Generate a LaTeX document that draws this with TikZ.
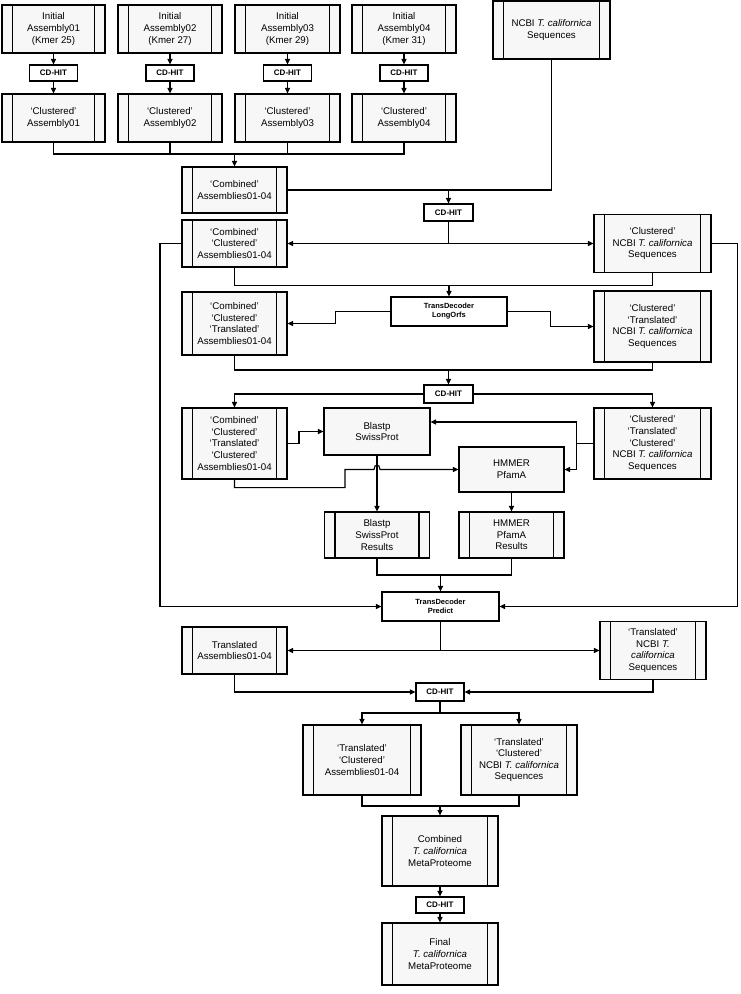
\documentclass[tikz,border=0pt]{standalone}
\usepackage{fontspec}
\setmainfont{Liberation Sans}
\usetikzlibrary{arrows.meta}
\definecolor{boxfill}{RGB}{247,247,247}
\begin{document}
\begin{tikzpicture}[x=1pt,y=-1pt,
  line width=1.1pt,
  every node/.style={font=\fontsize{9.7}{11.6}\selectfont, align=center, inner sep=0pt},
  sz/.style 2 args={minimum width=#1pt, minimum height=#2pt},
  pp/.style={draw, fill=boxfill, rectangle,
    path picture={\draw[line width=1.1pt]
      ([xshift=10.5pt]path picture bounding box.north west) -- ([xshift=10.5pt]path picture bounding box.south west)
      ([xshift=-10.5pt]path picture bounding box.north east) -- ([xshift=-10.5pt]path picture bounding box.south east);}},
  proc/.style={draw, fill=boxfill, rectangle},
  tool/.style={draw, fill=white, rectangle, font=\fontsize{8}{9.5}\selectfont\bfseries},
  tdec/.style={draw, fill=white, rectangle, font=\fontsize{7.5}{9}\selectfont\bfseries},
  arr/.style={-{Triangle[length=5.5pt,width=5pt]}}
]
\useasboundingbox (0,0) rectangle (740,994);

% top row
\node[pp,sz={103}{48}] (a1) at (53.5,29) {Initial\\Assembly01\\(Kmer 25)};
\node[pp,sz={104}{48}] (a2) at (170,29) {Initial\\Assembly02\\(Kmer 27)};
\node[pp,sz={105}{48}] (a3) at (287.5,29) {Initial\\Assembly03\\(Kmer 29)};
\node[pp,sz={104}{48}] (a4) at (404,29) {Initial\\Assembly04\\(Kmer 31)};
\node[pp,sz={117}{58}] (ncbi) at (551.5,30) {NCBI \textit{T. californica}\\Sequences};

\node[tool,sz={48}{16}] (cd1) at (53.5,73) {CD-HIT};
\node[tool,sz={48}{16}] (cd2) at (170,73) {CD-HIT};
\node[tool,sz={48}{16}] (cd3) at (287.5,73) {CD-HIT};
\node[tool,sz={48}{16}] (cd4) at (404,73) {CD-HIT};

\node[pp,sz={103}{48}] (c1) at (53.5,118) {`Clustered'\\Assembly01};
\node[pp,sz={104}{48}] (c2) at (170,118) {`Clustered'\\Assembly02};
\node[pp,sz={105}{48}] (c3) at (287.5,118) {`Clustered'\\Assembly03};
\node[pp,sz={104}{48}] (c4) at (404,118) {`Clustered'\\Assembly04};

\foreach \i in {1,2,3,4}{
  \draw[arr] (a\i.south) -- (cd\i.north);
  \draw[arr] (cd\i.south) -- (c\i.north);
}

\node[pp,sz={105}{46}] (comb) at (234.5,190) {`Combined'\\Assemblies01-04};
\coordinate (j1) at (234.5,154);
\draw (c1.south) -- (c1.south |- j1) -- (c4.south |- j1) -- (c4.south);
\draw (c2.south) -- (c2.south |- j1);
\draw (c3.south) -- (c3.south |- j1);
\draw[arr] (j1) -- (comb.north);

\node[tool,sz={49}{17}] (cdA) at (448.5,212.5) {CD-HIT};
\draw (ncbi.south) |- (comb.east);
\draw[arr] (cdA.north |- comb.east) -- (cdA.north);

\node[pp,sz={105}{47}] (cc) at (234.5,243.5) {`Combined'\\`Clustered'\\Assemblies01-04};
\node[pp,sz={117}{58}] (nc) at (652.5,243.5) {`Clustered'\\NCBI \textit{T. californica}\\Sequences};
\coordinate (jA) at (cdA.south |- cc.east);
\draw (cdA.south) -- (jA);
\draw[arr] (jA) -- (cc.east);
\draw[arr] (jA) -- (nc.west);

\node[tdec,sz={116}{29}] (lo) at (449,311.5) {TransDecoder\\LongOrfs};
\coordinate (j2) at (449,285.5);
\draw (cc.south) |- (nc.south |- j2) -- (nc.south);
\draw[arr] (j2) -- (lo.north);

\node[pp,sz={105}{63}] (cct) at (234.5,323.5) {`Combined'\\`Clustered'\\`Translated'\\Assemblies01-04};
\node[pp,sz={117}{71}] (nct) at (652.5,326.5) {`Clustered'\\`Translated'\\NCBI \textit{T. californica}\\Sequences};
\draw[arr] (lo.west) -- ++(-55,0) |- (cct.east);
\draw[arr] (lo.east) -- ++(43,0) |- (nct.west);

\node[tool,sz={49}{18}] (cdB) at (448.5,394) {CD-HIT};
\coordinate (j3) at (448.5,370);
\draw (cct.south) |- (nct.south |- j3) -- (nct.south);
\draw[arr] (j3) -- (cdB.north);

\node[pp,sz={105}{71}] (cctc) at (234.5,443.5) {`Combined'\\`Clustered'\\`Translated'\\`Clustered'\\Assemblies01-04};
\node[pp,sz={117}{71}] (nctc) at (652.5,443.5) {`Clustered'\\`Translated'\\`Clustered'\\NCBI \textit{T. californica}\\Sequences};
\draw[arr] (cdB.west) -| (cctc.north);
\draw[arr] (cdB.east) -| (nctc.north);

\node[proc,sz={106}{47}] (bp) at (377,431.5) {Blastp\\SwissProt};
\node[proc,sz={105}{45}] (hm) at (511.5,469.5) {HMMER\\PfamA};
\draw[arr] (cctc.east) -- (299,443.5) |- (bp.west);
\draw[arr] (nctc.west) -- ++(-17,0) |- ([yshift=9.5pt]bp.east);
\draw[arr] (nctc.west) ++(-17,0) |- (hm.east);
\draw[arr] (cctc.south) -- ++(0,8) -| (345,469.5) -- (374,469.5)
  .. controls (374,463.5) and (380,463.5) .. (380,469.5) -- (hm.west);

\node[pp,sz={105}{46}] (bres) at (377,535) {Blastp\\SwissProt\\Results};
\node[pp,sz={105}{46}] (hres) at (511.5,535) {HMMER\\PfamA\\Results};
\draw[arr] (bp.south) -- (bres.north);
\draw[arr] (hm.south) -- (hres.north);

\node[tdec,sz={117}{29}] (pred) at (440.5,606.5) {TransDecoder\\Predict};
\coordinate (j4) at (440.5,575);
\draw (bres.south) |- (hres.south |- j4) -- (hres.south);
\draw[arr] (j4) -- (pred.north);
\draw[arr] (cc.west) -- (160,243.5) |- (pred.west);
\draw[arr] (nc.east) -- (737.5,243.5) |- (pred.east);

\node[pp,sz={105}{47}] (ta) at (234.5,650.5) {Translated\\Assemblies01-04};
\node[pp,sz={106}{58}] (tn) at (653,650.5) {`Translated'\\NCBI \textit{T.}\\\textit{californica}\\Sequences};
\coordinate (j5) at (440.5,650.5);
\draw (pred.south) -- (j5);
\draw[arr] (j5) -- (ta.east);
\draw[arr] (j5) -- (tn.west);

\node[tool,sz={48}{18}] (cdC) at (440,692) {CD-HIT};
\draw[arr] (ta.south) |- (cdC.west);
\draw[arr] (tn.south) |- (cdC.east);

\node[pp,sz={118}{70}] (tc) at (362,760) {`Translated'\\`Clustered'\\Assemblies01-04};
\node[pp,sz={116}{70}] (tnc) at (519,760) {`Translated'\\`Clustered'\\NCBI \textit{T. californica}\\Sequences};
\coordinate (j6) at (440,713);
\draw (cdC.south) -- (j6);
\draw[arr] (j6) -| (tc.north);
\draw[arr] (j6) -| (tnc.north);

\node[pp,sz={116}{70}] (cmp) at (440,851) {Combined\\\textit{T. californica}\\MetaProteome};
\coordinate (j7) at (440,806);
\draw (tc.south) |- (tnc.south |- j7) -- (tnc.south);
\draw[arr] (j7) -- (cmp.north);

\node[tool,sz={48}{16}] (cdD) at (440,905) {CD-HIT};
\node[pp,sz={116}{62}] (fin) at (440,954) {Final\\\textit{T. californica}\\MetaProteome};
\draw[arr] (cmp.south) -- (cdD.north);
\draw[arr] (cdD.south) -- (fin.north);
\end{tikzpicture}
\end{document}
